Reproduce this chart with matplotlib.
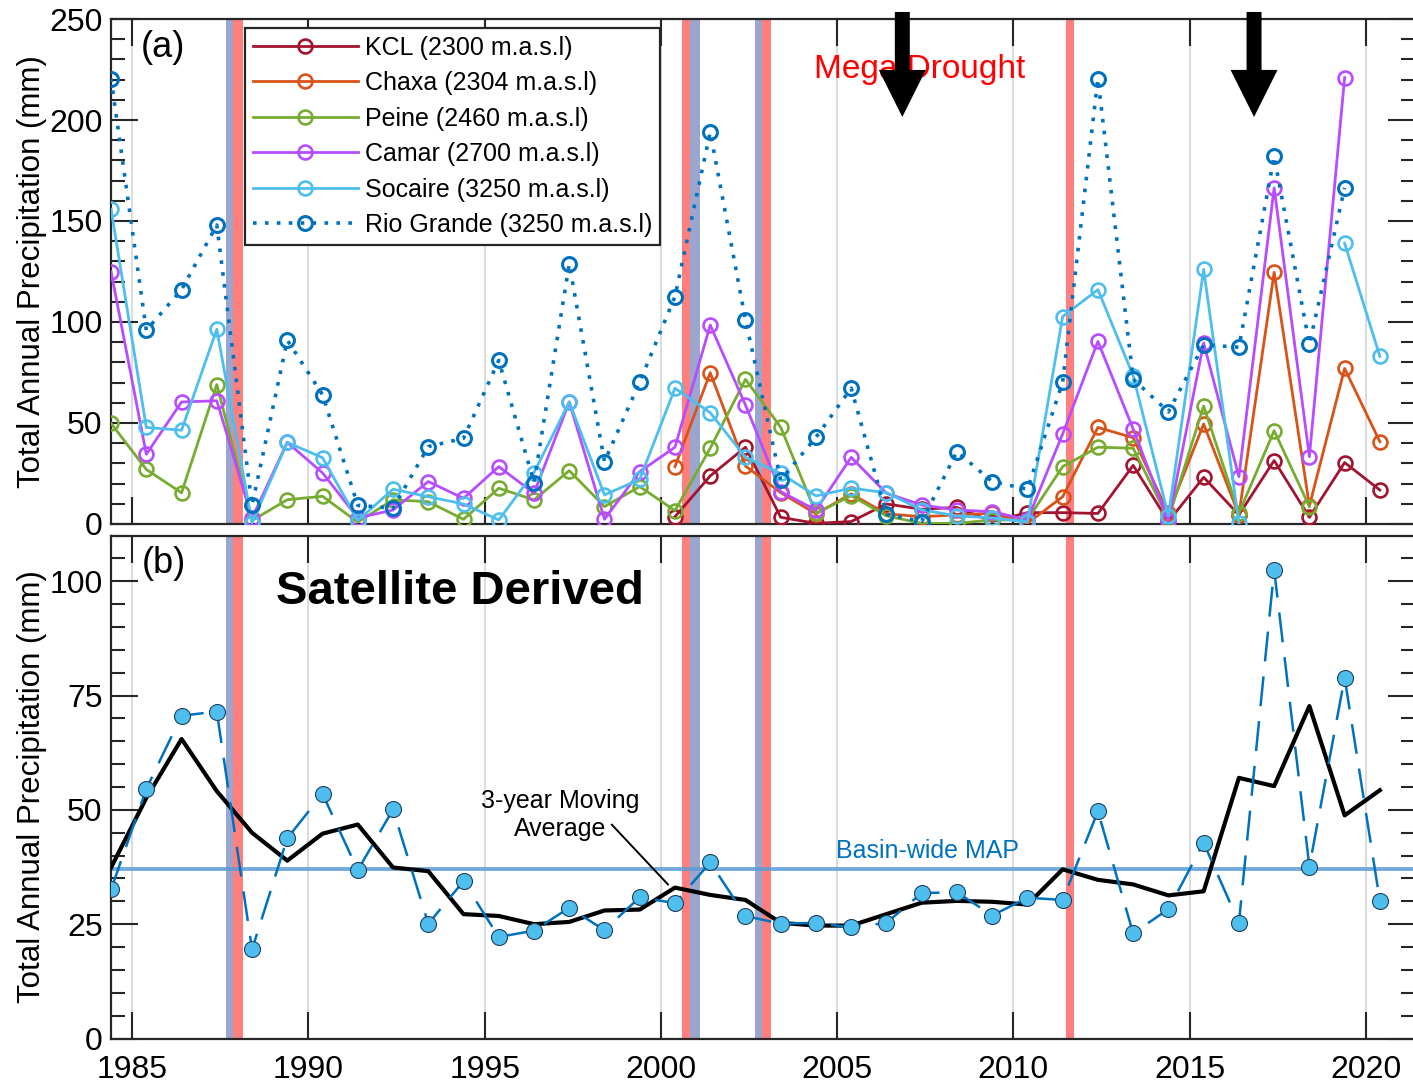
import numpy as np
import matplotlib
matplotlib.use('Agg')
from matplotlib import pyplot as plt
from matplotlib.patches import FancyArrow
from matplotlib.ticker import MultipleLocator

plt.rcParams['font.family'] = ['Liberation Sans', 'DejaVu Sans']

nan = np.nan

years = np.arange(1984, 2021)

# station records (mm), 1984..2020
kcl = [nan] * 16 + [3.6, 23.8, 38.0, 3.3, 0.3, 1.2, 9.9, 7.3, 8.2, 1.2, 5.6, 5.6, 5.2,
                    29.0, 1.2, 23.1, 4.5, 31.4, 3.3, 30.4, 16.8]
chaxa = [nan] * 16 + [28.4, 74.9, 28.7, 15.5, 5.0, 14.9, 5.0, 3.6, 4.5, 5.3, 0.3, 13.5, 47.8,
                      42.7, 5.3, 49.5, 4.5, 124.6, 8.9, 77.0, 40.7]
peine = [49.8, 27.0, 15.4, 69.0, 1.7, 12.0, 13.7, 0.9, 12.0, 11.0, 2.3, 17.7, 11.9, 26.4,
         8.6, 18.5, 6.6, 37.5, 71.6, 47.9, 5.3, 14.0, 4.0, 0.3, 0.3, 2.0, 2.0, 28.4, 38.0,
         37.5, 2.6, 58.4, 5.3, 46.2, 8.6, nan, nan]
camar = [124.9, 34.5, 60.4, 61.0, 2.9, 40.4, 25.3, 3.0, 6.9, 21.0, 12.7, 28.4, 15.2, 60.4,
         2.3, 25.9, 38.0, 98.5, 58.9, 16.0, 6.9, 33.0, 15.2, 9.4, 6.9, 6.1, 2.0, 44.6, 90.4,
         47.0, 1.5, 89.6, 23.4, 166.4, 33.3, 221.0, nan]
socaire = [155.8, 47.8, 46.4, 96.4, 0.5, 40.4, 32.8, 1.7, 17.2, 13.5, 9.9, 2.0, 25.4, 60.4,
           14.4, 22.1, 67.2, 55.1, 33.0, 25.0, 13.9, 17.7, 15.5, 7.0, 4.0, 3.0, 1.0, 102.7,
           116.0, 73.4, 4.0, 126.0, 0.3, nan, nan, 139.0, 83.0]
rio_grande = [220.5, 95.9, 116.0, 148.0, 9.2, 91.0, 64.0, 9.2, 7.8, 38.3, 42.4, 81.0, 20.5,
              128.8, 30.9, 70.3, 112.6, 194.0, 101.0, 21.8, 42.9, 67.2, 4.8, 1.2, 35.8, 21.0,
              17.2, 70.3, 220.5, 71.7, 55.5, 88.7, 87.5, 182.0, 89.0, 166.4, nan]

# satellite derived (mm)
satellite = [32.6, 54.6, 70.6, 71.5, 19.5, 43.8, 53.5, 36.8, 50.1, 25.1, 34.4, 22.2, 23.6,
             28.6, 23.7, 30.9, 29.6, 38.5, 26.8, 25.1, 25.3, 24.3, 25.3, 31.8, 32.0, 26.9,
             30.8, 30.3, 49.7, 23.0, 28.3, 42.8, 25.3, 102.5, 37.6, 78.9, 30.1]
moving_avg = [37.4, 52.6, 65.5, 54.1, 45.0, 38.9, 44.8, 46.8, 37.4, 36.6, 27.2, 26.8, 25.0,
              25.5, 28.0, 28.2, 33.0, 31.4, 30.3, 25.3, 24.7, 24.7, 27.2, 29.7, 30.1, 29.9,
              29.3, 37.0, 34.7, 33.7, 31.3, 32.2, 57.0, 55.2, 72.7, 48.8, 54.3]
basin_map = 37.1

stations = ['KCL (2300 m.a.s.l)', 'Chaxa (2304 m.a.s.l)', 'Peine (2460 m.a.s.l)',
            'Camar (2700 m.a.s.l)', 'Socaire (3250 m.a.s.l)', 'Rio Grande (3250 m.a.s.l)']
colors = ['#A2142F', '#D95319', '#77AC30', '#B84CFF', '#4DBEEE', '#0072BD']

# event bands (start, end)
red_bands = [(1987.87, 1988.13), (2000.59, 2000.83), (2002.86, 2003.12), (2011.49, 2011.72)]
blue_bands = [(1987.65, 1987.87), (2000.83, 2001.10), (2002.67, 2002.86)]

arrow_years = [2006.85, 2016.83]

x = years + 0.4

fig = plt.figure(figsize=(14.13, 10.81), dpi=100)
ax1 = fig.add_axes([0.0786, 0.5153, 0.9229, 0.4671])
ax2 = fig.add_axes([0.0786, 0.0393, 0.9229, 0.4653])

for ax in (ax1, ax2):
    ax.set_xlim(1984.4, 2021.4)
    ax.xaxis.set_major_locator(MultipleLocator(5))
    ax.grid(axis='x', color='#DCDCDC', lw=1.5, zorder=0)
    ax.set_axisbelow(True)
    for a, b in red_bands:
        ax.axvspan(a, b, color='#FF7F7F', lw=0, zorder=1)
    for a, b in blue_bands:
        ax.axvspan(a, b, color='#9AA6CE', lw=0, zorder=1)
    ax.tick_params(which='both', direction='in', top=True, right=True,
                   labelsize=23, colors='#262626', labelcolor='k')
    ax.tick_params(which='major', length=19.5, width=1.5)
    ax.tick_params(which='minor', length=10, width=1.5)
    ax.tick_params(axis='y', pad=6)
    ax.tick_params(axis='x', pad=12)
    for s in ax.spines.values():
        s.set_color('#262626')
        s.set_linewidth(1.6)
    ax.set_ylabel('Total Annual Precipitation (mm)', fontsize=22.5)
    ax.yaxis.set_label_coords(-0.049, 0.5)

# panel (a)
for i, (vals, name, c) in enumerate(zip([kcl, chaxa, peine, camar, socaire, rio_grande],
                                         stations, colors)):
    if i == 5:
        ax1.plot(x, vals, color=c, lw=2.6, ls=(0, (1, 2.3)), marker='o', ms=10,
                 mfc='none', mew=2.2, label=name, zorder=3)
    else:
        ax1.plot(x, vals, color=c, lw=2.0, marker='o', ms=10, mfc='none', mew=1.9,
                 label=name, zorder=3)

ax1.set_ylim(0, 250)
ax1.yaxis.set_major_locator(MultipleLocator(50))
ax1.yaxis.set_minor_locator(MultipleLocator(10))
ax1.tick_params(axis='x', labelbottom=False)

leg = ax1.legend(loc='upper left', bbox_to_anchor=(0.1028, 0.982), fontsize=18,
                 frameon=True, fancybox=False, edgecolor='#262626', framealpha=1,
                 borderaxespad=0, borderpad=0.3, labelspacing=0.46, handlelength=4.2,
                 handletextpad=0.3)
leg.get_frame().set_linewidth(1.6)
leg.set_zorder(6)

ax1.text(1985.24, 236, '(a)', fontsize=26, va='center', ha='left', zorder=5)
ax1.text(2004.35, 225, 'Mega Drought', color='#FF0000', fontsize=24, va='center',
         ha='left', zorder=5)
for ay in arrow_years:
    arr = FancyArrow(ay, 253.5, 0, -52, width=0.425, head_width=1.333, head_length=23.3,
                     length_includes_head=True, color='k', lw=0, clip_on=False, zorder=7)
    ax1.add_patch(arr)

# panel (b)
ax2.axhline(basin_map, color='#5B9BD5', lw=2.8, alpha=0.85, zorder=2)
ax2.plot(x, moving_avg, color='k', lw=3.0, zorder=3)
ax2.plot(x, satellite, color='#0072BD', lw=1.8, ls=(0, (12, 6)), marker='o', ms=11.5,
         mfc='#4DBEEE', mec='#1F3F5F', mew=0.8, zorder=4)

ax2.set_ylim(0, 110)
ax2.yaxis.set_major_locator(MultipleLocator(25))
ax2.yaxis.set_minor_locator(MultipleLocator(5))

ax2.text(1985.28, 103.9, '(b)', fontsize=26, va='center', ha='left', zorder=5)
ax2.text(1989.07, 97.7, 'Satellite Derived', fontsize=34, fontweight='bold',
         va='center', ha='left', zorder=5)
ax2.text(1997.14, 48.8, '3-year Moving\nAverage', fontsize=18, va='center',
         ha='center', linespacing=1.2, zorder=5)
ax2.plot([1998.61, 2000.2], [46.75, 33.7], color='k', lw=1.4, zorder=5)
ax2.text(2004.97, 40.9, 'Basin-wide MAP', color='#0072BD', fontsize=18, va='center',
         ha='left', zorder=5)

fig.savefig('out.png', dpi=100)
